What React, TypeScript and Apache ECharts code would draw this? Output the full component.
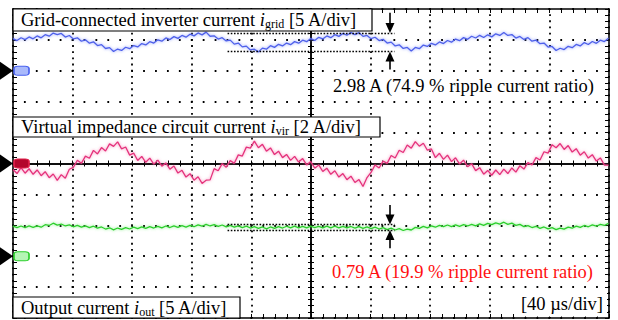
import React, { useEffect, useRef } from 'react';
import * as echarts from 'echarts';

// ---------------- data ----------------
const SAMPLE_US = 2.7; // time between two samples
const US_PER_DIV = 40; // [40 µs/div]
const DIVS_X = 10;
const DIVS_Y = 10;

// Grid-connected inverter current i_grid [A]
const I_GRID = [
  5.21, 4.89, 5.35, 5.04, 5.48, 5.18, 5.64, 5.34, 5.85, 5.60,
  6.11, 5.86, 6.05, 5.46, 5.71, 5.15, 5.34, 4.78, 5.01, 4.47,
  4.69, 4.08, 4.24, 3.61, 3.75, 3.13, 3.52, 3.29, 3.81, 3.58,
  4.09, 3.86, 4.40, 4.18, 4.72, 4.49, 5.01, 4.79, 5.32, 5.05,
  5.53, 5.25, 5.72, 5.44, 5.93, 5.65, 6.13, 5.81, 6.26, 5.59,
  5.66, 5.13, 5.35, 4.83, 4.96, 4.32, 4.49, 3.87, 3.99, 3.37,
  3.49, 3.06, 3.67, 3.50, 4.06, 3.79, 4.28, 4.02, 4.49, 4.23,
  4.72, 4.47, 4.96, 4.71, 5.21, 4.92, 5.42, 5.15, 5.64, 5.36,
  5.84, 5.57, 6.05, 5.75, 6.19, 5.86, 6.18, 5.57, 5.72, 5.20,
  5.43, 4.89, 5.09, 4.49, 4.64, 4.02, 4.20, 3.61, 3.78, 3.22,
  3.78, 3.58, 4.17, 3.94, 4.45, 4.18, 4.67, 4.41, 4.90, 4.63,
  5.14, 4.87, 5.37, 5.10, 5.59, 5.31, 5.74, 5.39, 5.82, 5.49,
  5.98, 5.72, 6.21, 5.72, 5.87, 5.30, 5.56, 5.08, 5.37, 4.79,
  4.96, 4.39, 4.49, 3.84, 3.94, 3.29, 3.65, 3.43, 3.96, 3.74,
  4.27, 4.03, 4.56, 4.26, 4.74, 4.44, 4.95, 4.73, 5.27,
];

// Virtual impedance circuit current i_vir [A]
const I_VIR = [
  -0.39, -0.65, -0.27, -0.63, -0.34, -0.70, -0.42, -0.79, -0.53, -0.92,
  -0.68, -1.09, -0.72, -0.95, -0.37, -0.25, 0.21, 0.01, 0.48, 0.34,
  0.85, 0.62, 1.03, 0.81, 1.27, 1.11, 1.40, 0.95, 1.07, 0.54,
  0.67, 0.19, 0.46, 0.08, 0.35, -0.04, 0.22, -0.17, 0.04, -0.37,
  -0.16, -0.62, -0.44, -0.88, -0.66, -1.08, -0.86, -1.29, -1.08, -1.06,
  -0.33, -0.47, -0.01, -0.24, 0.19, 0.01, 0.56, 0.48, 1.06, 1.00,
  1.45, 1.02, 1.24, 0.80, 1.01, 0.58, 0.80, 0.38, 0.59, 0.20,
  0.46, 0.09, 0.32, -0.09, 0.13, -0.30, -0.09, -0.52, -0.30, -0.70,
  -0.47, -0.88, -0.65, -1.05, -0.82, -1.23, -1.04, -1.49, -0.91, -0.58,
  -0.09, -0.29, 0.15, 0.01, 0.52, 0.36, 0.86, 0.71, 1.20, 0.99,
  1.42, 1.12, 1.31, 0.86, 0.94, 0.38, 0.66, 0.27, 0.54, 0.12,
  0.37, -0.03, 0.22, -0.21, -0.01, -0.46, -0.27, -0.69, -0.45, -0.76,
  -0.42, -0.72, -0.36, -0.65, -0.29, -0.56, -0.14, -0.36, 0.06, -0.10,
  0.38, 0.23, 0.76, 0.67, 1.22, 1.02, 1.29, 0.91, 1.16, 0.74,
  0.96, 0.54, 0.76, 0.35, 0.57, 0.16, 0.36, -0.10, -0.11,
];

// Output current i_out [A]
const I_OUT = [
  4.85, 4.61, 4.89, 4.63, 4.90, 4.66, 4.92, 4.69, 5.10, 4.97,
  5.34, 5.02, 5.21, 4.89, 5.08, 4.76, 4.98, 4.69, 4.92, 4.63,
  4.85, 4.53, 4.73, 4.40, 4.60, 4.27, 4.56, 4.34, 4.63, 4.40,
  4.69, 4.47, 4.74, 4.51, 4.79, 4.56, 4.84, 4.59, 4.89, 4.64,
  4.92, 4.68, 4.95, 4.71, 5.00, 4.77, 5.08, 4.85, 5.16, 4.89,
  5.11, 4.82, 5.05, 4.76, 4.98, 4.69, 4.92, 4.63, 4.87, 4.56,
  4.79, 4.50, 4.73, 4.43, 4.73, 4.50, 4.79, 4.56, 4.85, 4.59,
  4.86, 4.60, 4.83, 4.57, 4.87, 4.61, 4.84, 4.58, 4.86, 4.60,
  4.85, 4.59, 4.84, 4.58, 4.81, 4.53, 4.77, 4.50, 4.73, 4.45,
  4.69, 4.40, 4.61, 4.30, 4.53, 4.24, 4.45, 4.16, 4.39, 4.24,
  4.66, 4.51, 4.82, 4.59, 4.90, 4.69, 5.00, 4.77, 5.05, 4.80,
  5.08, 4.84, 5.11, 4.89, 5.16, 4.92, 5.23, 5.00, 5.31, 5.10,
  5.40, 5.19, 5.50, 5.16, 5.34, 5.00, 5.15, 4.79, 4.95, 4.64,
  4.84, 4.51, 4.73, 4.42, 4.61, 4.30, 4.55, 4.37, 4.71, 4.53,
  4.87, 4.66, 4.97, 4.76, 5.06, 4.85, 5.16, 4.97, 5.31,
];

// ripple measurement cursors
const RIPPLE_SPAN_US = [144, 256];
const GRID_RIPPLE_A = [6.1, 3.12]; // upper / lower cursor of i_grid
const OUT_RIPPLE_A = [5.14, 4.22]; // upper / lower cursor of i_out
const ARROW_US = 253;
const GRID_ARROW_TAIL_A = [9.4, 0.2];
const OUT_ARROW_TAIL_A = [8.3, 1.3];

// ---------------- styling / layout ----------------
const W = 618;
const H = 320;
const PLOT = { left: 13, right: 9, top: 9, bottom: 2 };
const PX_PER_DIV_Y = (H - PLOT.top - PLOT.bottom) / DIVS_Y;
const ARROW_HEAD = [9, 10];
const BLACK = '#000';
const SERIF = '"Liberation Serif", "Times New Roman", Times, serif';
const FS = 18.5;

const CHANNELS = [
  { values: I_GRID, aPerDiv: 5, offsetDiv: 3, color: '#4f61ea', glow: 'rgba(110,130,255,0.8)', pill: '#a9b9fb', pillBorder: '#4a62ee' },
  { values: I_VIR, aPerDiv: 2, offsetDiv: 0, color: '#e5317c', glow: 'rgba(245,110,170,0.8)', pill: '#b3062c', pillBorder: '#e0204a' },
  { values: I_OUT, aPerDiv: 5, offsetDiv: -3, color: '#2ccf2c', glow: 'rgba(100,235,100,0.8)', pill: '#b5f5b5', pillBorder: '#2ccf2c' },
];

const toX = (us: number) => us / US_PER_DIV - DIVS_X / 2;
const toY = (a: number, ch: (typeof CHANNELS)[number]) => ch.offsetDiv + a / ch.aPerDiv;

function cursorLines(ch: (typeof CHANNELS)[number], bounds: number[], tails: number[]) {
  const items: any[] = [];
  bounds.forEach((a) => {
    items.push([
      { coord: [toX(RIPPLE_SPAN_US[0]), toY(a, ch)], symbol: 'none' },
      { coord: [toX(RIPPLE_SPAN_US[1]), toY(a, ch)], symbol: 'none' },
    ]);
  });
  const shift = ARROW_HEAD[1] / 2 / PX_PER_DIV_Y;
  tails.forEach((tail, i) => {
    const tip = toY(bounds[i], ch);
    const t = toY(tail, ch);
    const end = tip > t ? tip - shift : tip + shift;
    items.push([
      { coord: [toX(ARROW_US), t], symbol: 'none', lineStyle: { type: 'solid', width: 1.6 } },
      { coord: [toX(ARROW_US), end], symbol: 'triangle', symbolSize: ARROW_HEAD },
    ]);
  });
  return {
    silent: true,
    animation: false,
    label: { show: false },
    emphasis: { disabled: true },
    itemStyle: { color: BLACK },
    lineStyle: { color: BLACK, width: 1.3, type: [1.6, 1.6] },
    data: items,
  };
}

function buildOption() {
  const common = { type: 'value', min: -DIVS_X / 2, max: DIVS_X / 2, interval: 1, axisLabel: { show: false }, silent: true };
  const tick = { color: BLACK, width: 1 };
  const border = { color: BLACK, width: 1.6 };
  const borderAxis = (position: string, split: any) => ({
    ...common,
    position,
    axisLine: { show: true, onZero: false, lineStyle: border },
    axisTick: { show: true, inside: true, length: 4, lineStyle: tick },
    minorTick: { show: true, splitNumber: 5, length: 4, lineStyle: tick },
    splitLine: split,
  });
  const centerAxis = (position: string, inside: boolean) => ({
    ...common,
    position,
    axisLine: { show: true, onZero: true, onZeroAxisIndex: 0, lineStyle: { color: BLACK, width: 1.5 } },
    axisTick: { show: true, inside, length: 3, lineStyle: tick },
    minorTick: { show: true, splitNumber: 5, length: 3, lineStyle: tick },
    splitLine: { show: false },
  });
  const vSplit = { show: true, lineStyle: { color: BLACK, width: 1.8, type: [1.8, 4.38], dashOffset: 0.9 } };
  const hSplit = { show: true, lineStyle: { color: BLACK, width: 1.8, type: [1.8, 10.12], dashOffset: 0.9 } };

  const traces = CHANNELS.map((ch, ci) => ({
    type: 'line',
    xAxisIndex: 0,
    yAxisIndex: 0,
    symbol: 'none',
    silent: true,
    z: 3,
    data: ch.values.map((a, k) => [toX(k * SAMPLE_US), toY(a, ch)]),
    lineStyle: { color: ch.color, width: 1.3, shadowColor: ch.glow, shadowBlur: 3 },
    markLine: ci === 0 ? cursorLines(ch, GRID_RIPPLE_A, GRID_ARROW_TAIL_A) : ci === 2 ? cursorLines(ch, OUT_RIPPLE_A, OUT_ARROW_TAIL_A) : undefined,
  }));

  const groundArrows = {
    type: 'scatter',
    silent: true,
    clip: false,
    z: 6,
    symbol: 'triangle',
    symbolSize: [18, 13],
    symbolRotate: -90,
    symbolOffset: [-6.5, 0],
    itemStyle: { color: BLACK, opacity: 1 },
    data: CHANNELS.map((ch) => [-DIVS_X / 2, ch.offsetDiv]),
  };
  const groundPills = {
    type: 'scatter',
    silent: true,
    clip: false,
    z: 6,
    symbol: 'roundRect',
    symbolSize: [15, 9],
    symbolOffset: [8.5, 0],
    data: CHANNELS.map((ch) => ({
      value: [-DIVS_X / 2, ch.offsetDiv],
      itemStyle: { color: ch.pill, borderColor: ch.pillBorder, borderWidth: 1.3, opacity: 1 },
    })),
  };

  const rich = {
    a: { fontFamily: SERIF, fontSize: FS, lineHeight: 20 },
    p: { fontFamily: SERIF, fontSize: FS, lineHeight: 20, padding: [0, 0, 0, 4.6] },
    i: { fontFamily: SERIF, fontSize: FS, fontStyle: 'italic', lineHeight: 20 },
    s: { fontFamily: SERIF, fontSize: 12, lineHeight: 10, verticalAlign: 'bottom' },
  };
  const box = (x: number, y: number, w: number, h: number) => ({
    type: 'rect', z: 100, shape: { x, y, width: w, height: h },
    style: { fill: '#fff', stroke: BLACK, lineWidth: 1.2 },
  });
  const title = (x: number, y: number, text: string) => ({
    type: 'text', z: 101, x, y,
    style: { text, rich, fill: BLACK, align: 'left', verticalAlign: 'middle', fontFamily: SERIF, fontSize: FS },
  });
  const note = (x: number, y: number, text: string, color: string, align: string) => ({
    type: 'text', z: 101, x, y,
    style: { text, fill: color, align, verticalAlign: 'middle', fontFamily: SERIF, fontSize: FS, backgroundColor: '#fff', padding: [3, 4] },
  });

  return {
    animation: false,
    backgroundColor: '#fff',
    grid: { ...PLOT, containLabel: false },
    xAxis: [borderAxis('bottom', vSplit), borderAxis('top', { show: false }), centerAxis('bottom', true), centerAxis('bottom', false)],
    yAxis: [borderAxis('left', hSplit), borderAxis('right', { show: false }), centerAxis('left', true), centerAxis('left', false)],
    series: [...traces, groundArrows, groundPills],
    graphic: {
      elements: [
        box(13, 9, 359, 22),
        title(21, 20, '{a|Grid-connected inverter current }{i|i}{s|grid}{p|[5 A/div]}'),
        box(13, 117, 367, 20),
        title(21, 127, '{a|Virtual impedance circuit current }{i|i}{s|vir}{p|[2 A/div]}'),
        box(13, 297, 227, 21),
        title(21, 307.5, '{a|Output current }{i|i}{s|out}{p|[5 A/div]}'),
        note(329, 86, '2.98 A (74.9 % ripple current ratio)', BLACK, 'left'),
        note(328, 272, '0.79 A (19.9 % ripple current ratio)', '#ff1010', 'left'),
        note(607, 304, '[40 µs/div]', BLACK, 'right'),
      ],
    },
  };
}

export default function App() {
  const ref = useRef<HTMLDivElement>(null);
  useEffect(() => {
    if (!ref.current) return;
    const chart = echarts.init(ref.current, undefined, { renderer: 'svg' });
    chart.setOption(buildOption() as any);
    return () => chart.dispose();
  }, []);
  return <div ref={ref} style={{ position: 'fixed', left: 0, top: 0, width: W, height: H, background: '#fff' }} />;
}
